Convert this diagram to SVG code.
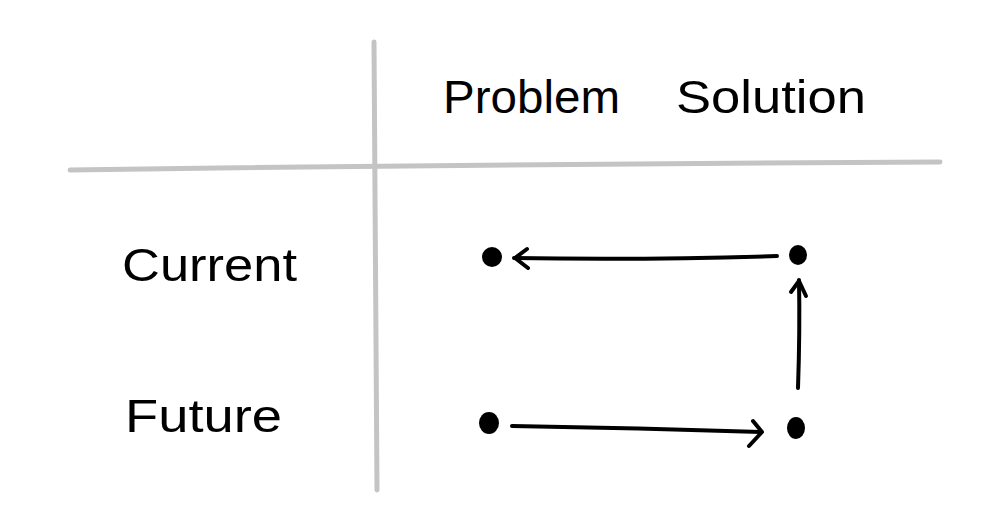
<svg xmlns="http://www.w3.org/2000/svg" width="985" height="521" viewBox="0 0 985 521">
<style>
.grid{stroke:#c4c4c4;stroke-width:5;stroke-linecap:round;fill:none}
.edge{stroke:#000;stroke-width:4;stroke-linecap:round;stroke-linejoin:round;fill:none}
.dot{fill:#000}
.lbl{font-family:"Liberation Sans","DejaVu Sans",sans-serif;font-size:46px;fill:#000}
</style>
<rect width="985" height="521" fill="#fff"/>
<g id="grid">
<path class="grid" d="M374 42 Q376 260 377 490"/>
<path class="grid" d="M70 170 Q500 164 940 162"/>
</g>
<g id="headers">
<text class="lbl" x="443" y="113" textLength="177" lengthAdjust="spacingAndGlyphs">Problem</text>
<text class="lbl" x="676" y="113" textLength="190" lengthAdjust="spacingAndGlyphs">Solution</text>
<text class="lbl" x="122" y="281" textLength="175" lengthAdjust="spacingAndGlyphs">Current</text>
<text class="lbl" x="125" y="432" textLength="157" lengthAdjust="spacingAndGlyphs">Future</text>
</g>
<g id="node-current-problem"><ellipse class="dot" cx="492" cy="257" rx="10" ry="10"/></g>
<g id="node-current-solution"><ellipse class="dot" cx="798" cy="255" rx="9" ry="10"/></g>
<g id="node-future-problem"><ellipse class="dot" cx="489" cy="423" rx="10" ry="11"/></g>
<g id="node-future-solution"><ellipse class="dot" cx="796" cy="428" rx="9" ry="11"/></g>
<g id="connectors">
<path class="edge" d="M777 256 Q650 260 514 258"/>
<path class="edge" d="M527 249 L515 258 L528 268"/>
<path class="edge" d="M798 388 Q800 330 799 280"/>
<path class="edge" d="M791 292 L799 281 L806 296"/>
<path class="edge" d="M512 426 Q640 428 761 432"/>
<path class="edge" d="M753 421 L762 432 L749 446"/>
</g>
</svg>
